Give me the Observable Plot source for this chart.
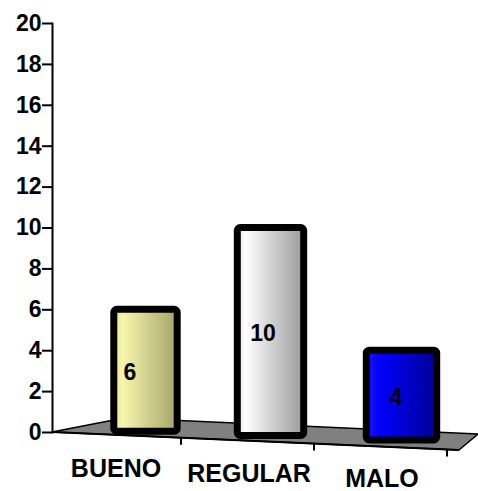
<!DOCTYPE html>
<html>
<head>
<meta charset="utf-8">
<script src="https://cdn.jsdelivr.net/npm/d3@7"></script>
<script src="https://cdn.jsdelivr.net/npm/@observablehq/plot@0.6"></script>
<style>
  html, body { margin: 0; padding: 0; background: #ffffff; }
  #chart svg { display: block; }
</style>
</head>
<body>
<div id="chart"></div>
<script>
// ---- data ----
const categories = ["BUENO", "REGULAR", "MALO"];
const values = [6, 10, 4];
const yTicks = [0, 2, 4, 6, 8, 10, 12, 14, 16, 18, 20];
const barGradients = [
  [["0%", "#e6e696"], ["14%", "#f6f6ac"], ["100%", "#a4a46a"]],
  [["0%", "#e2e2e2"], ["12%", "#ffffff"], ["100%", "#9a9a9a"]],
  [["0%", "#1a1aff"], ["18%", "#0000ff"], ["100%", "#000094"]]
];
const data = categories.map((c, i) => ({category: c, value: values[i]}));

// ---- layout / 3D perspective styling ----
const W = 478, H = 491, mL = 52, mR = 25, mT = 23, mB = 59;
const xs = d3.scaleBand(categories, [mL, W - mR]);
const barShifts = [26, 18, 16];      // depth shift of each cylinder
const barInsets = [34.8, 33.3, 31.3]; // cylinders widen slightly toward the viewer
const center = c => xs(c) + xs.bandwidth() / 2;
const baseOff = (c, i) => (center(c) + barShifts[i] - mL) * 0.034 - 4; // bar base follows the tilted floor
const font = "Arial, 'Liberation Sans', sans-serif";

function floorMark(index, scales, values, dims) {
  const x = scales.x && scales.x.bandwidth ? scales.x : xs;
  const x0 = dims.marginLeft, x1 = dims.width - dims.marginRight;
  const y0 = scales.y(0);
  const fx = x1 + 6, fy = y0 + 18;
  const g = d3.create("svg:g");
  g.append("polygon")
    .attr("points", [[x0, y0], [x0 + 72, y0 - 14], [x1 + 25, y0 + 2], [fx, fy]].map(p => p.join(",")).join(" "))
    .attr("fill", "#808080").attr("stroke", "black").attr("stroke-width", 1.5).attr("stroke-linejoin", "round");
  g.append("line").attr("x1", x0).attr("y1", y0).attr("x2", fx).attr("y2", fy)
    .attr("stroke", "black").attr("stroke-width", 2);
  const bw = x.bandwidth();
  categories.forEach(c => {
    const bx = x(c) + bw - 5;
    const by = y0 + (bx - x0) * (fy - y0) / (fx - x0);
    g.append("line").attr("x1", bx).attr("y1", by).attr("x2", bx).attr("y2", by + 7)
      .attr("stroke", "black").attr("stroke-width", 2);
  });
  return g.node();
}

const marks = [floorMark];
categories.forEach((c, i) => {
  const row = data.filter(d => d.category === c);
  const off = baseOff(c, i);
  marks.push(Plot.barY(row, {
    x: "category", y: "value",
    fill: `url(#grad${i})`, stroke: "black", strokeWidth: 7, rx: 3,
    dx: barShifts[i], insetLeft: barInsets[i], insetRight: barInsets[i], insetBottom: -off
  }));
  marks.push(Plot.text(row, {
    x: "category", y: d => d.value / 2, text: d => String(d.value),
    dx: 10, dy: off / 2 + 2, fontSize: 23, fontWeight: "bold", fill: "black"
  }));
  marks.push(Plot.text([c], {
    x: d => d, text: d => d, frameAnchor: "bottom",
    dx: -4, dy: 36 + (center(c) - center(categories[0])) * 0.04,
    fontSize: 25, fontWeight: "bold", fill: "black", lineAnchor: "middle"
  }));
});
marks.push(Plot.frame({anchor: "left", stroke: "black", strokeWidth: 2}));
marks.push(Plot.axisY({
  ticks: yTicks, tickSize: 10, stroke: "black", strokeWidth: 2,
  tickFormat: () => "", label: null
}));
marks.push(Plot.text(yTicks, {
  y: d => d, text: d => String(d), frameAnchor: "left", dx: -11,
  textAnchor: "end", lineAnchor: "middle", fontSize: 23, fontWeight: "bold", fill: "black"
}));

const chart = Plot.plot({
  width: W, height: H,
  marginLeft: mL, marginRight: mR, marginTop: mT, marginBottom: mB,
  style: {fontFamily: font, fontWeight: "bold", fontSize: "23px", color: "black", background: "white", overflow: "visible"},
  x: {type: "band", domain: categories, padding: 0, axis: null},
  y: {domain: [0, 20], axis: null},
  marks
});

// gradients for the cylinder shading
const defs = d3.select(chart).insert("defs", ":first-child");
barGradients.forEach((stops, i) => {
  const lg = defs.append("linearGradient").attr("id", `grad${i}`)
    .attr("x1", "0").attr("y1", "0").attr("x2", "1").attr("y2", "0");
  stops.forEach(([o, col]) => lg.append("stop").attr("offset", o).attr("stop-color", col));
});

document.getElementById("chart").appendChild(chart);
</script>
</body>
</html>
